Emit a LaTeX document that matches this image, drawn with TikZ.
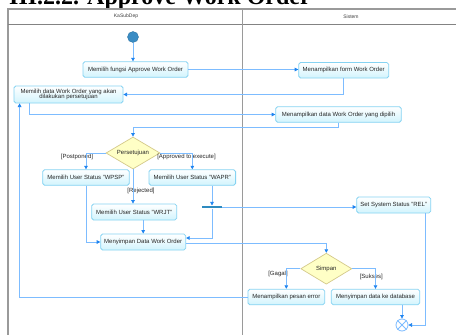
\documentclass[tikz,border=0pt]{standalone}
\usepackage{fontspec}
\setmainfont{Liberation Sans}
\newfontfamily\titlefont{Liberation Serif}
\usetikzlibrary{shapes.geometric,arrows.meta}
\definecolor{boxline}{HTML}{86D3F2}
\definecolor{boxfill}{HTML}{D2F4FD}
\definecolor{flow}{HTML}{7DBCFF}
\definecolor{tip}{HTML}{1E84F0}
\definecolor{decfill}{HTML}{FFFFC6}
\definecolor{decline}{HTML}{D4C98A}
\definecolor{lane}{HTML}{9A9A9A}
\definecolor{startc}{HTML}{3A8CC4}
\definecolor{barc}{HTML}{2E8BC0}
\begin{document}
\begin{tikzpicture}[x=1pt,y=-1pt,
  act/.style={draw=boxline, line width=0.8pt, rounded corners=1.8pt, top color=white, bottom color=boxfill,
    minimum height=15.5pt, inner sep=1pt, font=\fontsize{6}{7}\selectfont, text=black!85, align=center},
  dec/.style={diamond, draw=decline, fill=decfill, line width=0.7pt, inner sep=0pt,
    font=\fontsize{6}{7}\selectfont, text=black!85},
  flowline/.style={draw=flow, line width=0.75pt, -{Triangle[width=3.6pt,length=3.6pt,fill=tip,color=tip]}},
  guard/.style={font=\fontsize{6}{7}\selectfont, text=black!85, inner sep=0pt},
  lanehead/.style={font=\fontsize{5}{6}\selectfont, text=black!75, inner sep=0pt},
  lanebar/.style={draw=lane, line width=1pt},
]
\useasboundingbox (0,0) rectangle (456,335);
\clip (0,0) rectangle (456,335);
\fill[white] (0,0) rectangle (456,335);

% title (cut off at the top)
\node[anchor=base west, inner sep=0pt, font=\titlefont\bfseries\fontsize{24}{24}\selectfont] (title) at (9,4.5) {III.2.2. Approve Work Order};

% swimlane frame
\draw[lanebar, line width=1.3pt] (470,9) -- (8,9) -- (8,350);
\draw[lanebar, draw=lane!85!black] (8,24) -- (470,24);
\draw[lanebar] (242,9) -- (242,350);
\node[lanehead] (lane1) at (126,16.5) {KaSubDep};
\node[lanehead] (lane2) at (351,16.5) {Sistem};

% nodes
\node[circle, fill=startc, draw=startc!85!black, line width=0.4pt, minimum size=11pt, inner sep=0pt] (init) at (133,37) {};
\node[act, minimum width=105pt] (a1) at (135.5,69.5) {Memilih fungsi Approve Work Order};
\node[act, minimum width=90pt] (s1) at (343.7,70.3) {Menampilkan form Work Order};
\node[act, minimum width=109pt, minimum height=17pt, inner sep=0.5pt] (a2) at (68.5,94.5) {Memilih data Work Order yang akan\\[-1.5pt]dilakukan persetujuan};
\node[act, minimum width=125.6pt] (s2) at (338.5,114.5) {Menampilkan data Work Order yang dipilih};
\node[dec, minimum width=54pt, minimum height=32pt] (d1) at (133,153) {\makebox[0pt]{Persetujuan}};
\node[act, minimum width=86.6pt] (a3) at (86,177.5) {Memilih User Status "WPSP"};
\node[act, minimum width=86.6pt] (a4) at (192.3,177.5) {Memilih User Status "WAPR"};
\node[act, minimum width=85pt, minimum height=16pt] (a5) at (134.2,212) {Memilih User Status "WRJT"};
\node[fill=barc, minimum width=19.5pt, minimum height=2.6pt, inner sep=0pt] (fork) at (212,207) {};
\node[act, minimum width=74pt, minimum height=16pt] (s3) at (393.7,205) {Set System Status "REL"};
\node[act, minimum width=85pt, minimum height=16pt] (a6) at (143.2,242) {Menyimpan Data Work Order};
\node[dec, minimum width=51pt, minimum height=31pt] (d2) at (326.3,268.7) {\makebox[0pt]{Simpan}};
\node[act, minimum width=76.7pt] (s4) at (286.3,297) {Menampilkan pesan error};
\node[act, minimum width=88.4pt] (s5) at (375.5,297) {Menyimpan data ke database};
\node[circle, draw=flow, fill=white, line width=0.8pt, minimum size=12pt, inner sep=0pt] (final) at (402,325) {};
\draw[flow, line width=0.8pt] (final.north west) -- (final.south east) (final.north east) -- (final.south west);

% guards
\node[guard] (g1) at (77,157) {[Postponed]};
\node[guard] (g2) at (186.5,157) {[Approved to execute]};
\node[guard] (g3) at (141,191) {[Rejected]};
\node[guard] (g4) at (278,273.5) {[Gagal]};
\node[guard] (g5) at (371.3,277) {[Sukses]};

% flows
\draw[flowline] (init) -- (init |- a1.north);
\draw[flowline] (a1.east) -- (a1.east -| s1.west);
\draw[flowline] (s1.south) |- (a2.east);
\draw[flowline] ([xshift=-39.2pt]a2.south) |- (s2.west);
\draw[flowline] (s2.south) -- ++(0,4.4) -| (d1.north);
\draw[flowline] (d1.west) -| (a3.north);
\draw[flowline] (d1.east) -| (a4.north);
\draw[flowline] (d1.south) -- (d1.south |- a5.north);
\draw[flowline] (a4.south -| fork.north) -- (fork.north);
\draw[flowline] (fork.east) -- (fork.east -| s3.west);
\draw[flowline] (fork.south) |- ([yshift=4pt]a6.east);
\draw[flowline] (a5.south -| a6.north) -- (a6.north);
\draw[flowline] (a3.south) |- (a6.west);
\draw[flowline] ([yshift=-1.3pt]a6.east) -| (d2.north);
\draw[flowline] (d2.west) -| (s4.north);
\draw[flowline] (d2.east) -| (s5.north);
\draw[flowline] (s5.south -| final.north) -- (final.north);
\draw[flowline] ([xshift=-6pt]s3.south east) |- (final.east);
\draw[flowline] (s4.west) -| ([xshift=6pt]a2.south west);
\end{tikzpicture}
\end{document}
